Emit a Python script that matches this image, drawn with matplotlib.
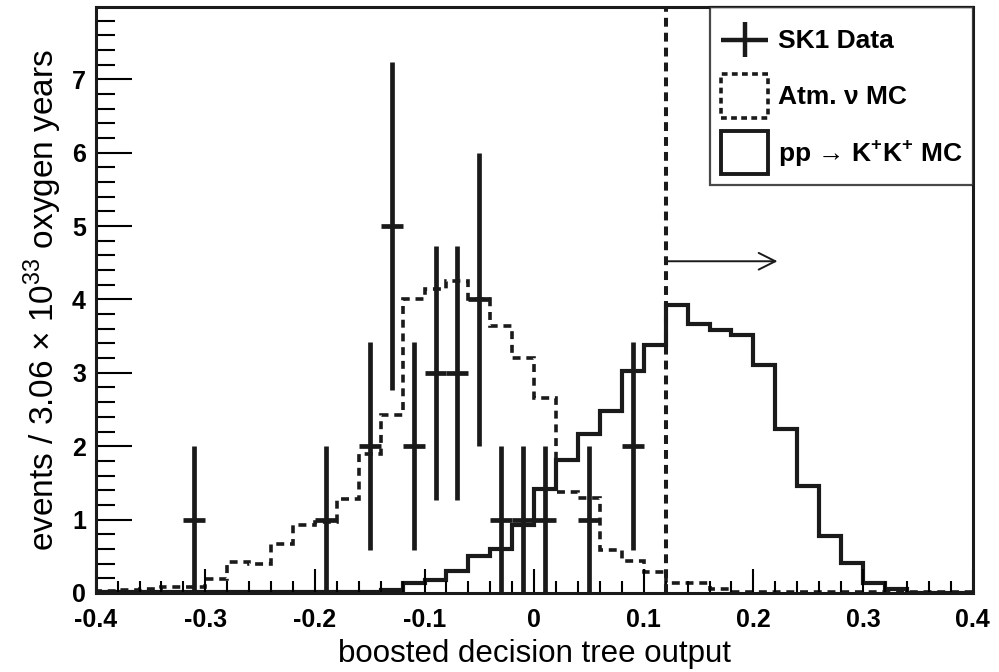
import numpy as np
import matplotlib
matplotlib.use("Agg")
import matplotlib.pyplot as plt
from matplotlib.lines import Line2D
from matplotlib.patches import Patch
from matplotlib.legend_handler import HandlerBase
from matplotlib.ticker import MultipleLocator

# histogram binning: 40 bins of 0.02 over [-0.4, 0.4]
edges = np.round(np.arange(-0.4, 0.4001, 0.02), 2)

# atmospheric neutrino MC (dashed)
atm_mc = [0.03, 0.04, 0.06, 0.08, 0.08,
          0.19, 0.42, 0.40, 0.67, 0.92, 0.97, 1.28, 1.89, 2.43,
          4.01, 4.14, 4.25, 4.01, 3.64, 3.20, 2.66, 1.38, 1.29,
          0.59, 0.44, 0.28, 0.14, 0.13, 0.05,
          0.02, 0.02, 0.02, 0.02, 0.01, 0.01, 0.01, 0.01, 0.01, 0.01, 0.01]

# pp -> K+K+ signal MC (solid)
sig_mc = [0.01, 0.01, 0.01, 0.01, 0.01, 0.01, 0.01, 0.01, 0.01,
          0.02, 0.02, 0.02, 0.02, 0.04,
          0.14, 0.18, 0.30, 0.50, 0.60, 0.93, 1.41, 1.81, 2.16,
          2.48, 3.02, 3.38, 3.93, 3.66, 3.59, 3.51, 3.10, 2.23,
          1.46, 0.78, 0.41, 0.13, 0.06,
          0.0, 0.0, 0.0]

# SK1 data points (bin centres and counts)
data_x = [-0.31, -0.19, -0.15, -0.13, -0.11, -0.09, -0.07, -0.05,
          -0.03, -0.01, 0.01, 0.05, 0.09]
data_n = [1, 1, 2, 5, 2, 3, 3, 4, 1, 1, 1, 1, 2]

cut = 0.12
ink = "#1a1a1a"

plt.rcParams['font.family'] = ['Liberation Sans', 'DejaVu Sans']
plt.rcParams['mathtext.fontset'] = 'custom'
plt.rcParams['mathtext.rm'] = 'Liberation Sans'
plt.rcParams['mathtext.bf'] = 'Liberation Sans:bold'


class CrossHandler(HandlerBase):
    # data-point legend symbol: wide horizontal bar with a shorter vertical bar
    def create_artists(self, legend, orig_handle, xdescent, ydescent,
                       width, height, fontsize, trans):
        x0, y0 = -xdescent, -ydescent
        kw = dict(color=ink, lw=3.2, solid_capstyle="butt", transform=trans)
        hbar = Line2D([x0, x0 + width], [y0 + height / 2] * 2, **kw)
        vbar = Line2D([x0 + width / 2] * 2, [y0 + 0.1 * height, y0 + 0.9 * height], **kw)
        return [hbar, vbar]


fig = plt.figure(figsize=(9.99, 6.72), dpi=100)
ax = fig.add_axes([0.0958, 0.1176, 0.8778, 0.8715])

ax.stairs(atm_mc, edges, color=ink, lw=2.6, linestyle=(0, (2.2, 1.6)))
ax.stairs(sig_mc, edges, color=ink, lw=3.0)

ax.errorbar(data_x, data_n, xerr=0.01, yerr=np.sqrt(data_n), fmt="none",
            ecolor=ink, elinewidth=3.4, capsize=0)

ax.plot([cut, cut], [0, 7.98], color=ink, lw=2.9, linestyle=(0, (2.2, 1.5)))
ax.annotate("", xy=(0.222, 4.52), xytext=(cut, 4.52),
            arrowprops=dict(arrowstyle="->", color=ink, lw=1.4,
                            mutation_scale=30, shrinkA=0, shrinkB=0))

ax.set_xlim(-0.4, 0.4)
ax.set_ylim(0, 7.98)
ax.xaxis.set_minor_locator(MultipleLocator(0.02))
ax.yaxis.set_minor_locator(MultipleLocator(0.2))
ax.tick_params(axis="x", which="major", direction="in", length=17, width=1.5, pad=11)
ax.tick_params(axis="x", which="minor", direction="in", length=9, width=1.5)
ax.tick_params(axis="y", which="major", direction="in", length=26, width=1.5, pad=7)
ax.tick_params(axis="y", which="minor", direction="in", length=14, width=1.5)
ax.set_xticks([-0.4, -0.3, -0.2, -0.1, 0, 0.1, 0.2, 0.3, 0.4])
ax.set_xticklabels(["-0.4", "-0.3", "-0.2", "-0.1", "0", "0.1", "0.2", "0.3", "0.4"])
ax.set_yticks(range(8))
for lab in ax.get_xticklabels() + ax.get_yticklabels():
    lab.set_fontweight("bold")
    lab.set_fontsize(18)
for sp in ax.spines.values():
    sp.set_linewidth(2.2)
    sp.set_color(ink)

ax.set_xlabel("boosted decision tree output", fontsize=22.5, labelpad=5)
ax.set_ylabel("events / 3.06 × 10$^{33}$ oxygen years", fontsize=24, labelpad=6)

handles = [
    "data",
    Patch(facecolor="white", edgecolor=ink, linestyle=(0, (1.6, 1.2)), lw=2.6),
    Patch(facecolor="white", edgecolor=ink, lw=2.8),
]
labels = ["SK1 Data", "Atm. ν MC", "pp → K$^{\\mathbf{+}}$K$^{\\mathbf{+}}$ MC"]
leg = ax.legend(handles, labels, loc="upper right", bbox_to_anchor=(1.0, 1.0),
                handler_map={str: CrossHandler()},
                frameon=True, fancybox=False, borderaxespad=0, handlelength=1.8,
                handleheight=2.15, handletextpad=0.35, labelspacing=0.5,
                borderpad=0.4, prop={"weight": "bold", "size": 19})
leg.get_frame().set_edgecolor(ink)
leg.get_frame().set_linewidth(1.6)

fig.savefig("out.png", dpi=100)
